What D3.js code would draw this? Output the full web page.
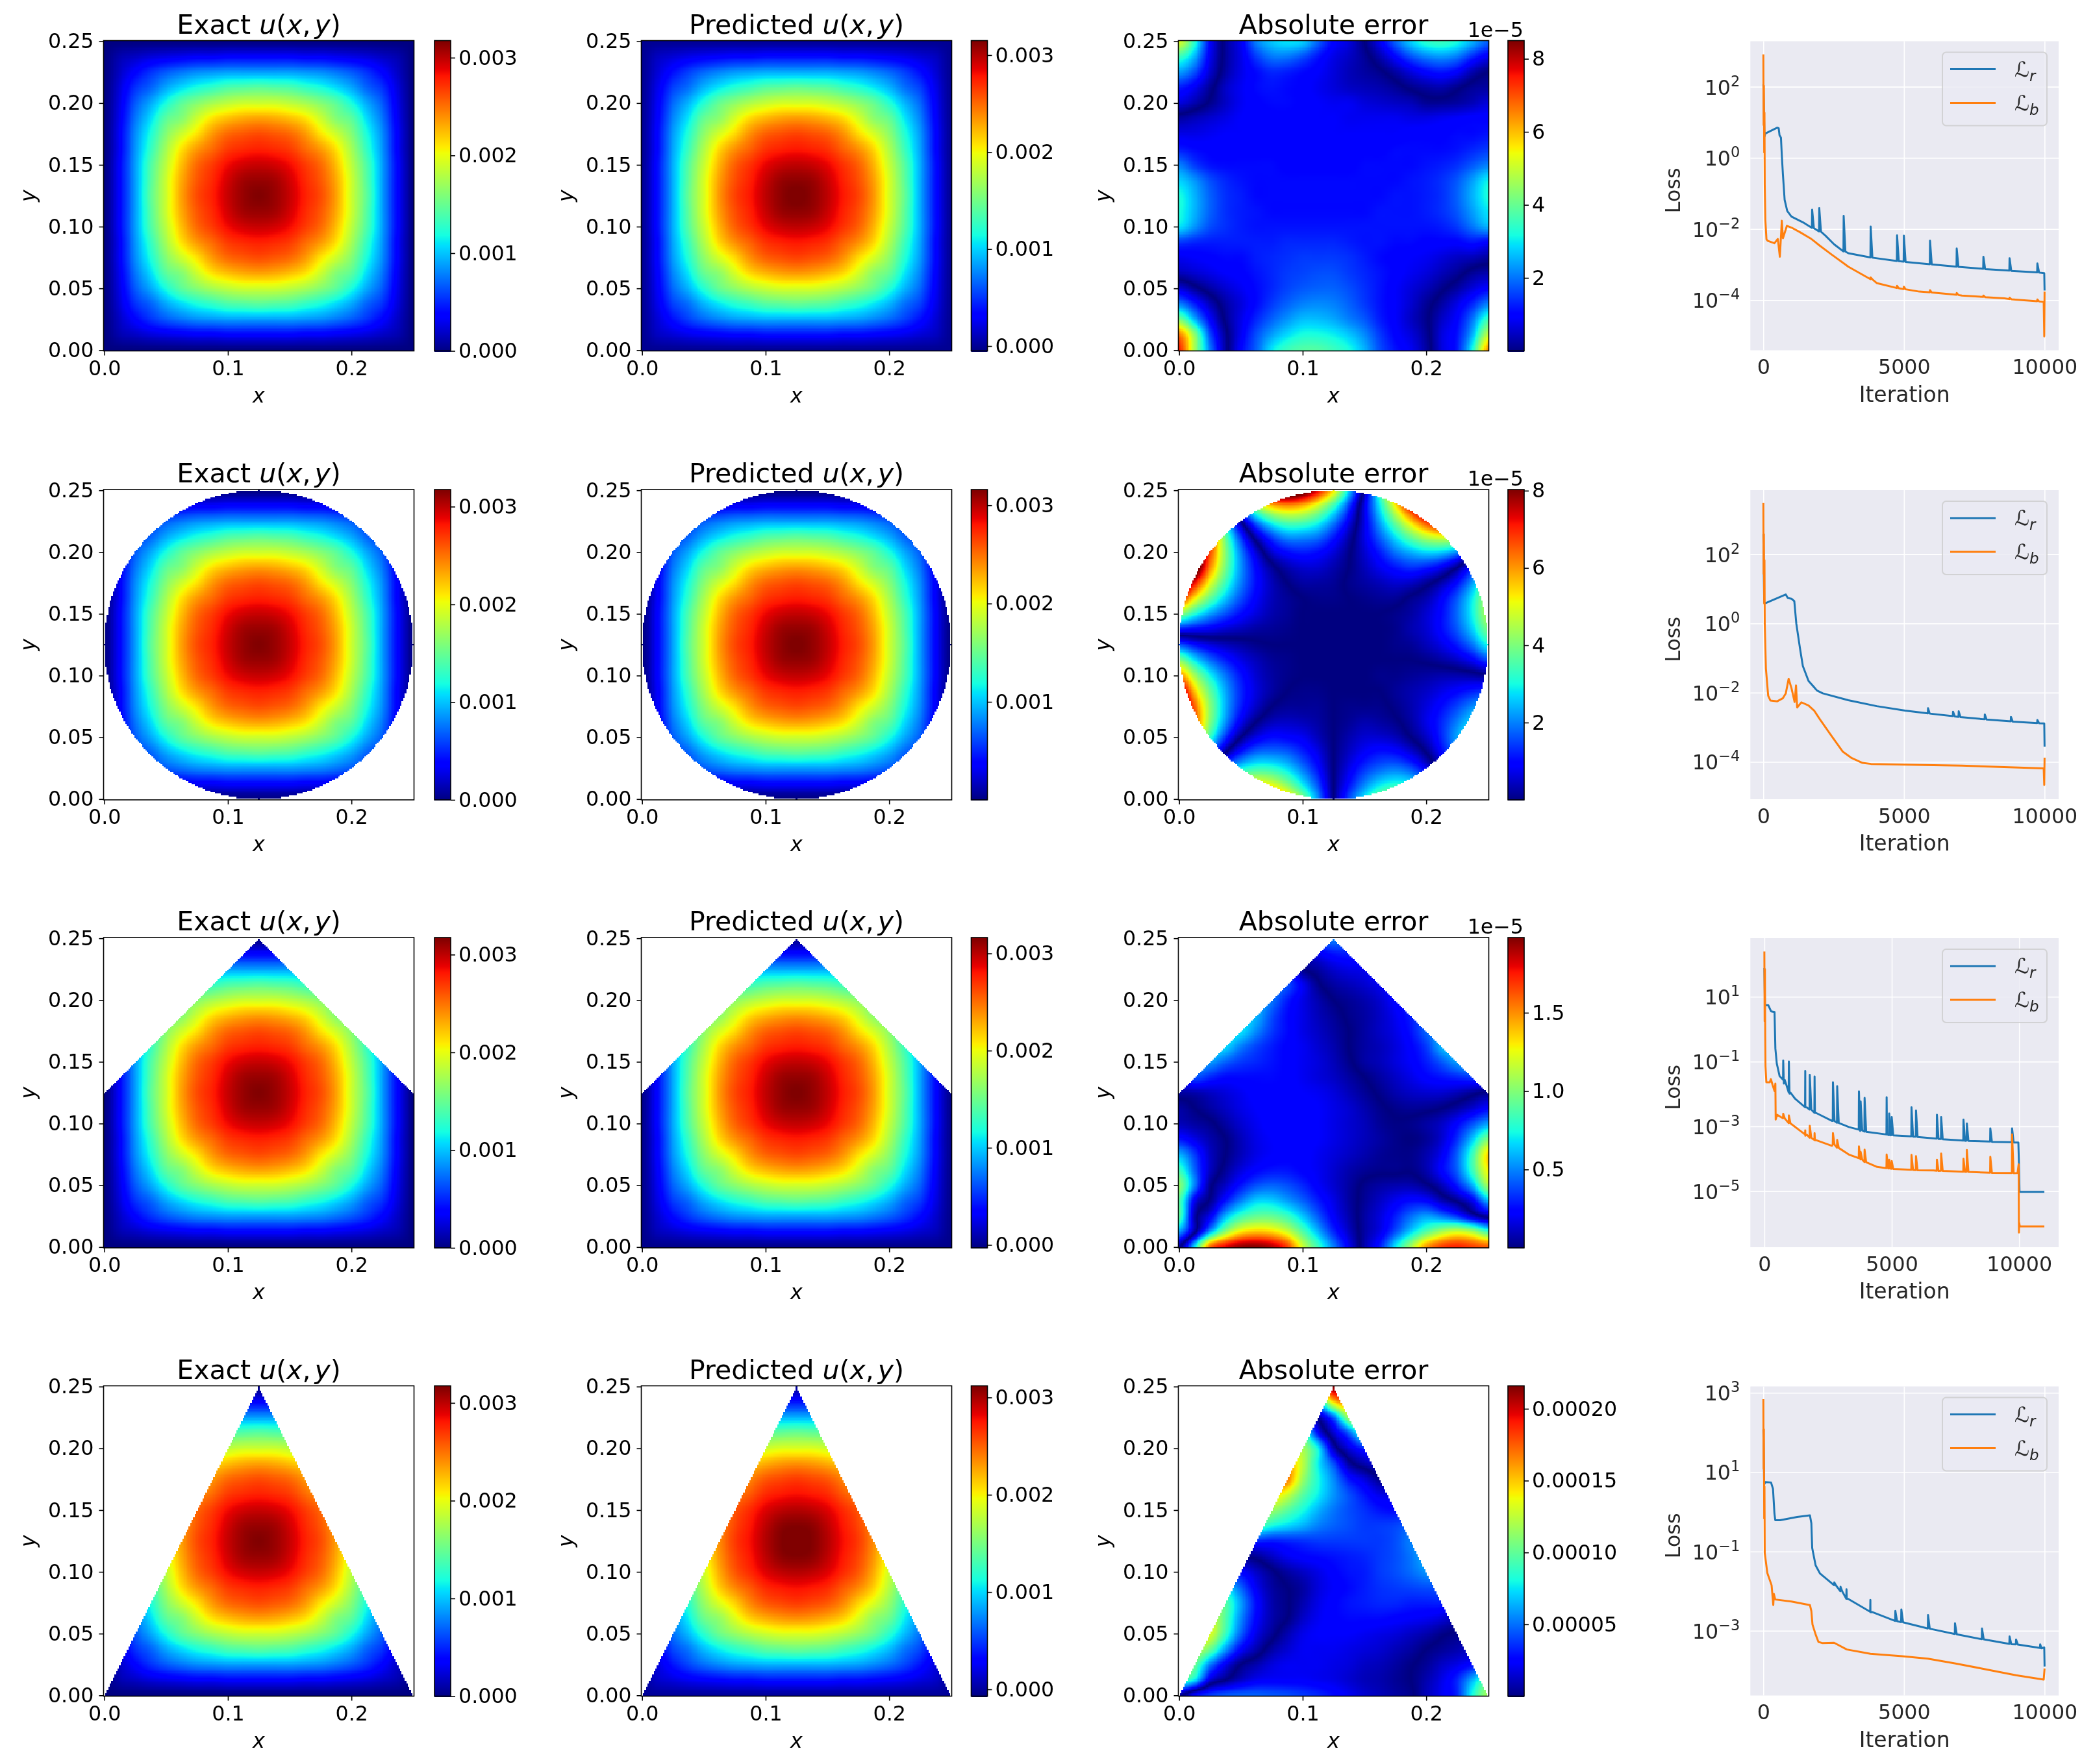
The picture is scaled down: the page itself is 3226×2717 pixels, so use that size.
<!DOCTYPE html>
<html><head><meta charset="utf-8">
<script src="https://cdn.jsdelivr.net/npm/d3@7"></script>
<style>
html,body{margin:0;padding:0;background:#fff}
#wrap{position:relative;width:3226px;height:2717px;overflow:hidden}
canvas,svg{position:absolute;left:0;top:0}
text{font-family:"DejaVu Sans",sans-serif}
</style></head><body><div id="wrap"><canvas id="c" width="3226" height="2717"></canvas><svg id="s" width="3226" height="2717"></svg></div>
<script>
// ---------- field values ----------
// exact solution u, one quadrant (x,y = 0 .. 0.125 every 0.0125), in units of 1e-5; the picture is mirror-symmetric
const uQuadrant=[
[0,0,0,0,0,0,0,0,0,0,0],
[0,13,19,25,29,32,35,35,38,38,38],
[0,19,38,54,67,76,83,86,89,89,89],
[0,25,54,70,92,108,121,130,140,143,146],
[0,29,67,92,121,146,162,175,184,190,190],
[0,32,76,108,146,162,190,213,225,232,235],
[0,35,83,121,162,190,213,238,254,260,264],
[0,35,86,130,175,213,238,254,270,276,279],
[0,38,89,140,184,225,254,270,286,295,298],
[0,38,89,143,190,232,260,276,295,308,311],
[0,38,89,146,190,235,264,279,298,311,317]];
// signed error on a 21x21 grid (row = y from 0 up, column = x from 0), percent of colourbar top
const errSquare=[
[88,55,25,3,-12,-22,-35,-42,-45,-45,-42,-38,-30,-20,-14,-10,-3,8,15,38,75],
[78,52,20,2,-10,-20,-28,-34,-38,-38,-36,-32,-26,-18,-12,-8,-2,8,14,30,58],
[50,30,12,-1,-9,-16,-22,-27,-31,-31,-29,-25,-21,-15,-11,-6,-1,6,12,24,42],
[25,15,5,-3,-8,-13,-18,-22,-25,-26,-25,-22,-18,-14,-11,-7,-2,3,9,16,25],
[8,2,-3,-7,-10,-13,-16,-19,-21,-22,-22,-20,-17,-14,-11,-8,-5,-1,3,8,12],
[-5,-7,-9,-11,-12,-14,-16,-18,-19,-20,-20,-18,-16,-14,-12,-10,-8,-5,-2,2,4],
[-10,-11,-12,-13,-13,-15,-16,-17,-18,-18,-18,-17,-15,-13,-12,-11,-10,-8,-6,-5,-3],
[-18,-16,-15,-15,-15,-15,-15,-16,-16,-16,-16,-15,-14,-14,-13,-13,-12,-12,-12,-14,-12],
[-35,-27,-20,-17,-15,-14,-14,-14,-14,-14,-14,-14,-14,-14,-14,-14,-14,-15,-18,-24,-30],
[-38,-30,-22,-17,-15,-14,-13,-13,-13,-13,-13,-13,-13,-14,-14,-14,-15,-17,-21,-28,-35],
[-38,-30,-22,-17,-15,-13,-13,-13,-13,-13,-13,-13,-13,-13,-14,-14,-15,-17,-22,-30,-38],
[-33,-27,-20,-16,-14,-13,-13,-13,-13,-13,-13,-13,-13,-13,-13,-14,-15,-17,-21,-28,-36],
[-25,-18,-14,-13,-13,-13,-13,-12,-12,-12,-12,-12,-13,-13,-13,-13,-14,-15,-17,-21,-25],
[-15,-13,-12,-12,-12,-12,-12,-12,-12,-12,-12,-12,-12,-12,-13,-13,-13,-13,-14,-16,-18],
[-9,-9,-10,-11,-11,-12,-12,-12,-12,-12,-11,-11,-11,-11,-11,-12,-12,-12,-13,-13,-14],
[-3,-5,-7,-9,-11,-12,-12,-12,-12,-11,-11,-10,-10,-10,-10,-9,-9,-10,-11,-12,-12],
[8,4,-1,-6,-10,-12,-13,-13,-12,-11,-10,-10,-8,-7,-6,-5,-2,-2,-3,-5,-8],
[15,10,2,-6,-10,-13,-14,-13,-12,-10,-8,-6,-5,-4,-2,1,3,4,1,-2,-3],
[28,20,7,-3,-9,-13,-16,-15,-13,-11,-8,-5,-3,-1,3,8,12,14,11,4,0],
[42,30,10,-2,-9,-18,-24,-24,-20,-14,-9,-6,-2,4,12,20,25,27,24,16,10],
[62,40,12,-2,-10,-25,-32,-35,-33,-22,-12,-8,0,10,22,33,40,42,38,30,22]];
const errCircle=[
[0,-50,-78,-95,-100,-97,-88,-71,-50,-26,0,19,35,49,57,58,50,35,11,-16,-48],
[50,0,-36,-55,-64,-66,-61,-50,-35,-19,0,13,25,34,38,36,27,12,-8,-31,-63],
[90,36,0,-24,-36,-41,-40,-34,-24,-13,0,9,17,22,24,20,10,-4,-20,-41,-67],
[110,64,25,0,-15,-23,-24,-22,-16,-9,0,6,11,14,13,8,0,-12,-26,-45,-66],
[110,78,42,17,0,-9,-13,-12,-10,-5,0,4,7,7,5,0,-6,-16,-29,-42,-59],
[110,84,51,27,10,0,-5,-6,-5,-3,0,2,4,3,1,-3,-9,-16,-25,-35,-47],
[110,81,52,30,15,6,0,-2,-2,-2,0,1,1,1,-1,-4,-8,-13,-19,-26,-33],
[101,70,47,29,16,8,3,0,-1,-1,0,0,0,0,-2,-4,-6,-9,-12,-15,-17],
[78,55,37,24,14,7,3,1,0,0,0,0,0,-1,-1,-2,-3,-4,-4,-3,-1],
[51,35,23,15,9,5,2,1,0,0,0,0,0,0,0,0,1,3,6,11,19],
[20,13,8,5,3,1,0,0,0,0,0,0,0,0,1,2,5,9,15,24,37],
[-14,-12,-10,-7,-5,-3,-2,-1,0,0,0,0,0,0,1,4,7,13,21,33,49],
[-52,-39,-28,-20,-13,-8,-4,-2,0,0,0,0,0,0,1,3,7,13,23,37,56],
[-89,-66,-47,-32,-20,-11,-5,-2,0,1,1,0,-1,-2,-2,1,4,11,21,36,56],
[-110,-90,-63,-42,-25,-13,-5,0,3,3,2,-1,-3,-5,-7,-6,-2,4,13,28,49],
[-110,-110,-77,-49,-27,-12,-2,4,7,7,4,0,-5,-10,-14,-17,-15,-10,0,15,33],
[-110,-110,-84,-51,-25,-7,7,13,15,13,8,1,-7,-15,-24,-30,-34,-33,-26,-11,10],
[-110,-110,-87,-47,-17,5,19,27,27,24,15,4,-9,-22,-35,-48,-58,-63,-62,-54,-33],
[-110,-110,-80,-35,0,25,40,47,46,39,26,10,-9,-29,-49,-69,-86,-100,-108,-107,-97],
[-110,-110,-61,-10,30,56,71,76,72,60,42,19,-9,-36,-65,-93,-110,-110,-110,-110,-110],
[-110,-100,-30,29,70,98,113,115,107,90,66,33,-4,-42,-81,-110,-110,-110,-110,-110,-110]];
const errHouse=[
[-2,35,80,92,99,100,96,85,60,42,25,10,-4,-15,-35,-55,-75,-85,-88,-85,-82],
[-28,-2,28,52,66,70,68,60,45,30,16,6,-3,-9,-20,-33,-45,-55,-60,-55,-42],
[-45,-4,10,30,42,47,47,42,32,21,11,4,-3,-8,-15,-23,-28,-24,-17,-6,3],
[-45,-10,1,14,25,33,33,28,22,15,9,3,-2,-6,-10,-13,-12,-5,1,10,30],
[-52,-25,-2,6,14,20,22,20,16,11,7,3,-1,-3,-4,-4,-1,5,15,30,55],
[-42,-22,-6,2,8,12,14,14,12,10,7,4,2,1,1,0.5,4,12,22,42,65],
[-30,-18,-6,0,5,9,11,12,12,10,8,6,4,2,1,1,4,10,22,42,68],
[-14,-9,-4,0,5,9,11,12,12,11,9,7,5,3,1,0,2,7,17,32,50],
[-5,-3,-1,3,7,10,12,12,12,11,9,7,5,2,0.5,1,3,6,12,20,28],
[-3,0,3,6,9,11,12,12,12,11,9,7,4,1,-1,-2,-1.5,0,3,7,12],
[3,4,6,8,10,12,12,12,11,10,8,5,2,-1,-4,-6,-7,-7,-5,-2,1],
[14,20,16,13,13,13,13,12,10,8,6,3,0,-3,-6,-9,-12,-14,-16,-18,-20],
[30,30,28,22,18,16,14,12,10,8,5,1,-3,-5,-8,-11,-15,-21,-28,-32,-32],
[38,38,38,34,25,19,15,12,10,7,4,0,-3,-5,-8,-12,-18,-30,-35,-35,-35],
[38,38,38,38,35,26,18,13,9,6,3,0,-3,-6,-9,-14,-22,-28,-30,-30,-30],
[35,35,35,35,35,30,20,13,9,5,2,-1,-3,-6,-10,-15,-20,-22,-22,-22,-22],
[30,30,30,30,30,30,24,15,9,4,0,-2,-4,-7,-12,-16,-18,-18,-18,-18,-18],
[25,25,25,25,25,25,25,20,10,1,-3,-5,-7,-10,-14,-16,-16,-16,-16,-16,-16],
[20,20,20,20,20,20,20,15,1,-3,-7,-9,-10,-14,-15,-15,-15,-15,-15,-15,-15],
[10,10,10,5,0,-3,-5,-5,-5,-10,-14,-15,-15,-15,-15,-15,-15,-15,-15,-15,-15],
[-5,-5,-5,-10,-10,-15,-20,-20,-20,-22,-25,-22,-20,-20,-20,-20,-20,-20,-20,-20,-20]];
const errTriangle=[
[-3,12,18,21,22,22,21,20,18,16,13,10,7,5,3,1,-5,-10,-16,-38,-55],
[-45,-35,-8,0,6,10,11,11,11,10,9,7,5,4,2,0,-4,-9,-16,-30,-45],
[-60,-48,-25,-10,0,4,8,10,10,10,9,8,6,5,3,0.5,-2,-6,-9,-13,-18],
[-65,-60,-48,-28,-12,-4,3,7,10,10,10,9,8,7,5,3,0,-2,-4,-6,-8],
[-70,-68,-62,-42,-22,-9,-2,4,9,11,11,11,10,9,8,6,4,1,-1,-3,-4],
[-65,-65,-62,-45,-26,-12,-4,0,6,10,12,13,13,13,12,11,10,8,4,2,2],
[-55,-55,-55,-45,-28,-13,-4,-0.5,4,9,12,14,15,16,16,15,15,15,10,8,8],
[-40,-40,-40,-35,-22,-10,-3,0,3,8,11,13,15,17,18,19,20,20,15,15,15],
[-16,-16,-16,-16,-12,-6,-1,3,6,9,12,14,15,18,20,23,27,30,30,30,30],
[-4,-4,-4,-4,-1,2,6,10,12,13,14,15,16,18,20,24,30,32,32,32,32],
[14,14,14,14,14,16,15,16,17,18,18,18,18,18,20,25,28,28,28,28,28],
[45,45,45,45,45,45,38,34,30,25,22,20,18,18,19,22,22,22,22,22,22],
[60,60,60,60,60,60,54,46,38,30,24,20,17,14,13,15,15,15,15,15,15],
[70,70,70,70,70,70,70,60,46,36,27,20,14,9,9,9,9,9,9,9,9],
[85,85,85,85,85,85,85,78,54,38,26,14,8,1,-3,-3,-3,-3,-3,-3,-3],
[80,80,80,80,80,80,80,75,58,36,20,3,-4,-8,-8,-8,-8,-8,-8,-8,-8],
[62,62,62,62,62,62,62,62,55,36,5,-8,-16,-22,-22,-22,-22,-22,-22,-22,-22],
[50,50,50,50,50,50,50,50,45,12,-7,-22,-45,-45,-45,-45,-45,-45,-45,-45,-45],
[15,15,15,15,15,15,15,15,15,-2,-22,-55,-70,-70,-70,-70,-70,-70,-70,-70,-70],
[-10,-10,-10,-10,-10,-10,-10,-10,-10,-30,-68,-80,-80,-80,-80,-80,-80,-80,-80,-80,-80],
[-80,-80,-80,-80,-80,-80,-80,-80,-80,-80,-100,-100,-100,-100,-100,-100,-100,-100,-100,-100,-100]];
const errGrids=[errSquare,errCircle,errHouse,errTriangle];

// domain shapes
const polySquare=[[-1,-1],[1,-1],[1,1],[-1,1]];
const polyHouse=[[-1,-1],[1,-1],[1,0.125],[0.25,0.125],[0.125,0.25],[0,0.125],[-1,0.125]];
const polyTriangle=[[0,0],[0.25,0],[0.125,0.25]];
const circleCentre=[0.125,0.125], circleRadius=0.125;

// colourbar ranges
const exactRange=[[0,0.003175],[0,0.003175],[0,0.003175],[0,0.003175]];
const predRange=[[-0.00005,0.00315],[0.000003,0.00316],[-0.00003,0.003164],[-0.00007,0.00312]];
const errRange=[8.5e-5,8.03e-5,1.98e-5,2.16e-4];
const uTicks=[0,0.001,0.002,0.003];
const errTicks=[[2e-5,4e-5,6e-5,8e-5],[2e-5,4e-5,6e-5,8e-5],[0.5e-5,1e-5,1.5e-5],[5e-5,1e-4,1.5e-4,2e-4]];
const errTickLabels=[["2","4","6","8"],["2","4","6","8"],["0.5","1.0","1.5"],["0.00005","0.00010","0.00015","0.00020"]];
const errOffset=["1e\u22125","1e\u22125","1e\u22125",""];
const xTicks=[0,0.1,0.2], yTicks=[0,0.05,0.1,0.15,0.2,0.25];

// loss curves: [iteration, log10 loss]; spikes: [iteration, log10 base, log10 peak]
const lrBase1=[[0,2.07],[40,0.6],[71,0.687],[495,0.848],[545,0.834],[575,0.638],[626,0.568],[656,0.08],[697,-0.48],[757,-1.18],[848,-1.49],[1000,-1.65],[1404,-1.81],[1727,-1.97],[1980,-2.07],[2212,-2.19],[2515,-2.43],[2848,-2.63],[3020,-2.68],[3808,-2.8],[4747,-2.9],[4989,-2.92],[5919,-2.99],[6868,-3.06],[7817,-3.12],[8747,-3.17],[9736,-3.22],[9989,-3.24],[10000,-3.73]];
const lrSpikes1=[[1727,-1.97,-1.457],[1980,-2.07,-1.41],[2848,-2.63,-1.63],[3808,-2.8,-1.93],[4747,-2.9,-2.18],[4989,-2.92,-2.19],[5919,-2.99,-2.33],[6868,-3.06,-2.55],[7817,-3.12,-2.78],[8747,-3.17,-2.82],[9736,-3.22,-2.97]];
const lbBase1=[[0,2.91],[10,0.92],[20,2.03],[30,0.15],[40,1.27],[50,-0.76],[71,-1.74],[111,-2.29],[152,-2.33],[394,-2.4],[515,-2.28],[586,-2.78],[626,-2.22],[656,-1.77],[697,-2.26],[838,-1.91],[1000,-1.96],[1303,-2.09],[1707,-2.28],[2010,-2.47],[2414,-2.71],[2848,-2.96],[3020,-3.06],[3808,-3.41],[4030,-3.52],[4747,-3.66],[5545,-3.76],[7060,-3.87],[8575,-3.95],[9736,-4.03],[9969,-4.05],[9989,-5.02],[10000,-3.76]];
const lbSpikes1=[[3808,-3.41,-3.36],[4747,-3.66,-3.6],[4989,-3.69,-3.62],[5919,-3.78,-3.72],[6868,-3.85,-3.8],[7817,-3.91,-3.87],[8747,-3.97,-3.93],[9736,-4.03,-3.98]];
const lrBase2=[[0,2.58],[30,0.6],[71,0.585],[798,0.836],[869,0.736],[1000,0.714],[1101,0.642],[1172,-0.004],[1303,-0.72],[1404,-1.23],[1606,-1.66],[1909,-1.94],[2111,-2.02],[3020,-2.22],[4030,-2.39],[5040,-2.52],[5848,-2.6],[6737,-2.68],[7868,-2.77],[8797,-2.83],[9736,-2.88],[9989,-2.89],[10000,-3.56]];
const lrSpikes2=[[5848,-2.6,-2.45],[6737,-2.68,-2.55],[6939,-2.7,-2.54],[7868,-2.77,-2.63],[8797,-2.83,-2.7],[9736,-2.88,-2.79]];
const lbBase2=[[0,3.48],[10,1.43],[20,2.58],[30,0.57],[40,1.83],[50,-0.004],[91,-1.3],[172,-2.09],[252,-2.23],[495,-2.25],[697,-2.16],[798,-2.02],[899,-1.6],[1000,-1.87],[1111,-2.27],[1162,-1.79],[1202,-2.43],[1353,-2.28],[1606,-2.37],[1808,-2.52],[2010,-2.77],[2414,-3.24],[2818,-3.7],[3121,-3.88],[3525,-4.03],[3828,-4.06],[5040,-4.08],[7060,-4.11],[9969,-4.19],[9989,-4.67],[10000,-3.88]];
const lbSpikes2=[];
const lrBase3=[[0,1.89],[22,0.74],[155,0.74],[266,0.55],[399,0.53],[432,-0.6],[488,-1.06],[599,-1.45],[765,-1.68],[987,-1.99],[1209,-2.15],[1608,-2.41],[1985,-2.58],[2651,-2.83],[3316,-3.02],[3760,-3.14],[4813,-3.25],[5756,-3.31],[6754,-3.38],[7807,-3.44],[8861,-3.48],[9715,-3.49],[9970,-3.5],[9992,-4.13],[10014,-5.02],[10990,-5.02]];
const lrSpikes3=[[732,-1.56,-0.97],[954,-1.95,-1.0],[1597,-2.41,-1.29],[1774,-2.48,-1.41],[1963,-2.58,-1.46],[2684,-2.83,-1.64],[2850,-2.89,-1.76],[3704,-3.1,-1.92],[3771,-3.12,-2.23],[3926,-3.16,-2.12],[4791,-3.25,-2.1],[4891,-3.27,-2.6],[4990,-3.27,-2.71],[5767,-3.31,-2.41],[5944,-3.32,-2.51],[6765,-3.38,-2.64],[6931,-3.39,-2.71],[7807,-3.44,-2.79],[7940,-3.44,-2.91],[8861,-3.47,-3.06],[9715,-3.49,-3.06]];
const lbBase3=[[0,2.4],[11,0.24],[22,1.85],[33,-0.22],[44,-1.14],[78,-1.64],[211,-1.64],[255,-1.54],[322,-1.72],[399,-1.91],[432,-1.68],[444,-2.79],[499,-2.64],[954,-2.89],[1608,-3.29],[1985,-3.43],[2651,-3.6],[3316,-3.87],[3926,-4.12],[4425,-4.25],[4979,-4.31],[6643,-4.36],[8861,-4.43],[9937,-4.44],[9981,-4.17],[9992,-6.28],[10003,-5.98],[10025,-6.09],[10990,-6.09]];
const lbSpikes3=[[732,-2.75,-2.61],[954,-2.9,-2.66],[1597,-3.25,-3.12],[1774,-3.35,-2.98],[1963,-3.42,-3.21],[2684,-3.56,-3.21],[2850,-3.66,-3.42],[3704,-3.98,-3.62],[3771,-4.02,-3.79],[3926,-4.1,-3.72],[4791,-4.29,-3.87],[4891,-4.3,-4.03],[4990,-4.31,-4.07],[5767,-4.34,-3.88],[5944,-4.35,-3.92],[6765,-4.37,-4.03],[6931,-4.37,-3.84],[7807,-4.4,-4.0],[7940,-4.4,-3.73],[8861,-4.43,-3.94],[9715,-4.44,-3.25]];
const lrBase4=[[0,2.08],[30,0.69],[71,0.75],[273,0.74],[343,0.58],[394,-0.04],[424,-0.21],[596,-0.21],[1202,-0.13],[1656,-0.09],[1707,-0.29],[1737,-0.91],[1858,-1.35],[2010,-1.55],[2515,-1.85],[2969,-2.19],[3808,-2.53],[4686,-2.75],[5848,-2.94],[6807,-3.08],[7767,-3.21],[8747,-3.33],[9888,-3.44],[9989,-3.42],[10000,-3.9]];
const lrSpikes4=[[2515,-1.85,-1.78],[2737,-2.0,-1.89],[2949,-2.19,-1.95],[3798,-2.52,-2.22],[4686,-2.75,-2.5],[4899,-2.78,-2.46],[5848,-2.94,-2.6],[6807,-3.08,-2.81],[7767,-3.21,-2.94],[8747,-3.33,-3.14],[8979,-3.34,-3.22],[9837,-3.43,-3.34]];
const lbBase4=[[0,2.84],[10,1.08],[20,2.08],[30,-0.17],[40,0.64],[50,-1.04],[91,-1.26],[141,-1.54],[293,-1.85],[353,-2.35],[374,-2.07],[424,-2.21],[1000,-2.26],[1656,-2.35],[1707,-2.5],[1747,-2.84],[1858,-3.09],[1959,-3.28],[2111,-3.31],[2515,-3.3],[2969,-3.47],[3808,-3.58],[4939,-3.64],[5848,-3.7],[6807,-3.82],[7767,-3.95],[8979,-4.12],[9969,-4.23],[10000,-3.95]];
const lbSpikes4=[];
const lrBases=[lrBase1,lrBase2,lrBase3,lrBase4], lrSpikes=[lrSpikes1,lrSpikes2,lrSpikes3,lrSpikes4];
const lbBases=[lbBase1,lbBase2,lbBase3,lbBase4], lbSpikes=[lbSpikes1,lbSpikes2,lbSpikes3,lbSpikes4];
const lossYDomain=[[-5.41,3.28],[-5.08,3.85],[-6.73,2.81],[-4.63,3.16]];
const lossYTicks=[[-4,-2,0,2],[-4,-2,0,2],[-5,-3,-1,1],[-3,-1,1,3]];
const lossXDomain=[[-462,10500],[-462,10500],[-550,11550],[-462,10500]];
const lossXTicks=[0,5000,10000];
const seriesNames=["r","b"], seriesColors=["#1f77b4","#ff7f0e"];

// jet colormap stops
const jetR=[[0,0],[0.35,0],[0.66,1],[0.89,1],[1,0.5]];
const jetG=[[0,0],[0.125,0],[0.375,1],[0.64,1],[0.91,0],[1,0]];
const jetB=[[0,0.5],[0.11,1],[0.34,1],[0.65,0],[1,0]];

// ---------- layout ----------
const rowTop=[62.5,754,1444,2134.5], colLeft=[159.5,987.5,1814.5], cbLeft=[669,1495.5,2322];
const W=478,H=478,CBW=25, lossL=2695.3, lossW=474.7, lossH=476;
const tickFont=31.7, titleFont=41;

const chan=s=>d3.scaleLinear().domain(s.map(d=>d[0])).range(s.map(d=>d[1])).clamp(true);
const cr=chan(jetR),cg=chan(jetG),cb=chan(jetB);
const jet=t=>`rgb(${Math.round(cr(t)*255)},${Math.round(cg(t)*255)},${Math.round(cb(t)*255)})`;

// smooth display resampling of a coarse grid (Catmull-Rom), like imshow(interpolation='bicubic')
function cubic(a,b,c,d,t){return b+0.5*t*(c-a+t*(2*a-5*b+4*c-d+t*(3*(b-c)+d-a)));}
function sample(g,x,y,step){
  const n=g.length-1,fx=x/step,fy=y/step,ix=Math.min(n-1,Math.floor(fx)),iy=Math.min(n-1,Math.floor(fy));
  const tx=fx-ix,ty=fy-iy,cl=v=>Math.max(0,Math.min(n,v));
  const row=j=>cubic(g[j][cl(ix-1)],g[j][ix],g[j][ix+1],g[j][cl(ix+2)],tx);
  return cubic(row(cl(iy-1)),row(iy),row(iy+1),row(cl(iy+2)),ty);
}
const uGrid=d3.range(21).map(j=>d3.range(21).map(i=>uQuadrant[j<=10?j:20-j][i<=10?i:20-i]));

const masks=[
 (x,y)=>d3.polygonContains(polySquare,[x,y]),
 (x,y)=>Math.hypot(x-circleCentre[0],y-circleCentre[1])<=circleRadius+1e-9,
 (x,y)=>d3.polygonContains(polyHouse,[x,y+1e-9]),
 (x,y)=>d3.polygonContains(polyTriangle,[x,y+1e-9])||(Math.abs(x-0.125)<1e-9&&y<=0.25)
];

const ctx=document.getElementById('c').getContext('2d');
ctx.fillStyle='#fff';ctx.fillRect(0,0,3226,2717);
const svg=d3.select('#s');
const half=0.000625, dom=[-half,0.25+half], cells=d3.range(201).map(k=>k*0.00125);

function styleAxis(g,col){
  g.select('.domain').remove();
  g.selectAll('line').attr('stroke',col||'#000').attr('stroke-width',1.6);
  g.selectAll('text').attr('font-family','"DejaVu Sans"').attr('font-size',tickFont).attr('fill',col||'#000');
}
function panelAxes(r,c,top,left,title){
  const x=d3.scaleLinear().domain(dom).range([left,left+W]);
  const y=d3.scaleLinear().domain(dom).range([top+H,top]);
  const g=svg.append('g');
  g.append('rect').attr('x',left).attr('y',top).attr('width',W).attr('height',H).attr('fill','none').attr('stroke','#000').attr('stroke-width',1.6);
  g.append('g').attr('transform',`translate(0,${top+H})`).call(d3.axisBottom(x).tickValues(xTicks).tickFormat(d3.format('.1f')).tickSize(7).tickPadding(7.5)).call(styleAxis);
  g.append('g').attr('transform',`translate(${left},0)`).call(d3.axisLeft(y).tickValues(yTicks).tickFormat(d3.format('.2f')).tickSize(7).tickPadding(8)).call(styleAxis);
  g.append('text').attr('x',left+W/2).attr('y',top+H+79).attr('text-anchor','middle').attr('font-size',tickFont).attr('font-style','italic').text('x');
  g.append('text').attr('transform',`translate(${left-106},${top+H/2}) rotate(-90)`).attr('text-anchor','middle').attr('font-size',tickFont).attr('font-style','italic').text('y');
  const t=g.append('text').attr('x',left+W/2).attr('y',top-11).attr('text-anchor','middle').attr('font-size',titleFont);
  title(t);
  return {x,y};
}
function mathTitle(name){return t=>{
  t.append('tspan').text(name+' ');
  t.append('tspan').attr('font-style','italic').text('u');
  t.append('tspan').text('(');
  t.append('tspan').attr('font-style','italic').text('x');
  t.append('tspan').text(',');
  t.append('tspan').attr('font-style','italic').attr('dx',6).text('y');
  t.append('tspan').text(')');
};}
function drawField(a,valueAt,mask,color){
  cells.forEach(cx=>cells.forEach(cy=>{
    if(!mask(cx,cy))return;
    const v=valueAt(cx,cy);
    ctx.fillStyle=color(v);
    const x0=a.x(cx-half),x1=a.x(cx+half),y0=a.y(cy+half),y1=a.y(cy-half);
    const X0=Math.round(x0),Y0=Math.round(y0);
    ctx.fillRect(X0,Y0,Math.round(x1)-X0,Math.round(y1)-Y0);
  }));
}
function colorbar(left,top,domain,ticks,labels){
  const y=d3.scaleLinear().domain(domain).range([top+H,top]);
  for(let p=0;p<H;p++){
    ctx.fillStyle=jet((p+0.5)/H);
    ctx.fillRect(left,Math.round(top+H-p-1),CBW,2);
  }
  const g=svg.append('g');
  g.append('rect').attr('x',left).attr('y',top).attr('width',CBW).attr('height',H).attr('fill','none').attr('stroke','#000').attr('stroke-width',1.6);
  const vis=ticks.map((t,i)=>[t,labels[i]]).filter(d=>d[0]>=domain[0]&&d[0]<=domain[1]);
  g.append('g').attr('transform',`translate(${left+CBW},0)`)
   .call(d3.axisRight(y).tickValues(vis.map(d=>d[0])).tickFormat((d,i)=>vis[i][1]).tickSize(7).tickPadding(5)).call(styleAxis);
}
const uLabels=uTicks.map(d3.format('.3f'));
rowTop.forEach((top,r)=>{
  // exact
  let a=panelAxes(r,0,top,colLeft[0],mathTitle('Exact'));
  let dm=exactRange[r], s=d3.scaleLinear().domain(dm).range([0,1]).clamp(true);
  drawField(a,(x,y)=>sample(uGrid,x,y,0.0125)*1e-5,masks[r],v=>jet(s(v)));
  colorbar(cbLeft[0],top,dm,uTicks,uLabels);
  // predicted
  a=panelAxes(r,1,top,colLeft[1],mathTitle('Predicted'));
  const dm2=predRange[r], s2=d3.scaleLinear().domain(dm2).range([0,1]).clamp(true);
  drawField(a,(x,y)=>sample(uGrid,x,y,0.0125)*1e-5,masks[r],v=>jet(s2(v)));
  colorbar(cbLeft[1],top,dm2,uTicks,uLabels);
  // error
  a=panelAxes(r,2,top,colLeft[2],t=>t.text('Absolute error'));
  const vm=errRange[r], s3=d3.scaleLinear().domain([0,vm]).range([0,1]).clamp(true);
  drawField(a,(x,y)=>Math.abs(sample(errGrids[r],x,y,0.0125))/100*vm,masks[r],v=>jet(s3(v)));
  colorbar(cbLeft[2],top,[0,vm],errTicks[r],errTickLabels[r]);
  if(errOffset[r]) svg.append('text').attr('x',cbLeft[2]+CBW-1).attr('y',top-6).attr('text-anchor','end').attr('font-size',tickFont).text(errOffset[r]);
  // loss
  const lt=top+1, x=d3.scaleLinear().domain(lossXDomain[r]).range([lossL,lossL+lossW]);
  const y=d3.scaleLog().domain(lossYDomain[r].map(v=>Math.pow(10,v))).range([lt+lossH,lt]);
  const g=svg.append('g');
  g.append('rect').attr('x',lossL).attr('y',lt).attr('width',lossW).attr('height',lossH).attr('fill','#EAEAF2');
  const ink='#262626';
  const xa=g.append('g').attr('transform',`translate(0,${lt+lossH})`).call(d3.axisBottom(x).tickValues(lossXTicks).tickFormat(d3.format('d')).tickSizeInner(-lossH).tickSizeOuter(0).tickPadding(14)).call(styleAxis,'#fff');
  xa.selectAll('text').attr('fill',ink);
  const ya=g.append('g').attr('transform',`translate(${lossL},0)`).call(d3.axisLeft(y).tickValues(lossYTicks[r].map(v=>Math.pow(10,v))).tickFormat(()=>'' ).tickSizeInner(-lossW).tickSizeOuter(0).tickPadding(16)).call(styleAxis,'#fff');
  ya.selectAll('.tick text').each(function(d){
    const e=Math.round(Math.log10(d)), t=d3.select(this).attr('fill',ink).attr('dy','0.36em').text('');
    t.append('tspan').text('10');
    t.append('tspan').attr('font-size',22.5).attr('dy',-13).text(e<0?'\u2212'+(-e):String(e));
  });
  g.append('text').attr('x',lossL+lossW/2).attr('y',lt+lossH+79).attr('text-anchor','middle').attr('font-size',33).attr('fill',ink).text('Iteration');
  g.append('text').attr('transform',`translate(2587,${lt+lossH/2-8}) rotate(-90)`).attr('text-anchor','middle').attr('font-size',32).attr('fill',ink).text('Loss');
  const line=d3.line().x(d=>x(d[0])).y(d=>y(Math.pow(10,d[1]))).curve(d3.curveLinear);
  const merged=(base,sp)=>{
    const pts=base.filter(b=>!sp.some(q=>q[0]===b[0]));
    sp.forEach(q=>{pts.push([q[0],q[1]]);pts.push([q[0]+8,q[2]]);pts.push([q[0]+70,q[1]-0.006]);});
    return pts.sort((p,q)=>p[0]-q[0]);
  };
  [[lrBases[r],lrSpikes[r]],[lbBases[r],lbSpikes[r]]].forEach((d,k)=>{
    g.append('path').attr('d',line(merged(d[0],d[1]))).attr('fill','none').attr('stroke',seriesColors[k]).attr('stroke-width',3).attr('stroke-linejoin','round');
  });
  // legend
  const lg=g.append('g');
  lg.append('rect').attr('x',2991).attr('y',lt+17).attr('width',161).attr('height',113).attr('rx',6).attr('fill','#EAEAF2').attr('fill-opacity',0.8).attr('stroke','#cccccc').attr('stroke-opacity',0.8).attr('stroke-width',2);
  seriesNames.forEach((nm,k)=>{
    const ly=lt+43+k*52;
    lg.append('line').attr('x1',3003).attr('x2',3073).attr('y1',ly).attr('y2',ly).attr('stroke',seriesColors[k]).attr('stroke-width',3);
    const t=lg.append('text').attr('x',3102).attr('y',ly+11).attr('font-size',32).attr('fill',ink);
    t.append('tspan').text('\u2112');
    t.append('tspan').attr('font-size',23).attr('dy',7).attr('font-style','italic').text(nm);
  });
});
</script></body></html>
